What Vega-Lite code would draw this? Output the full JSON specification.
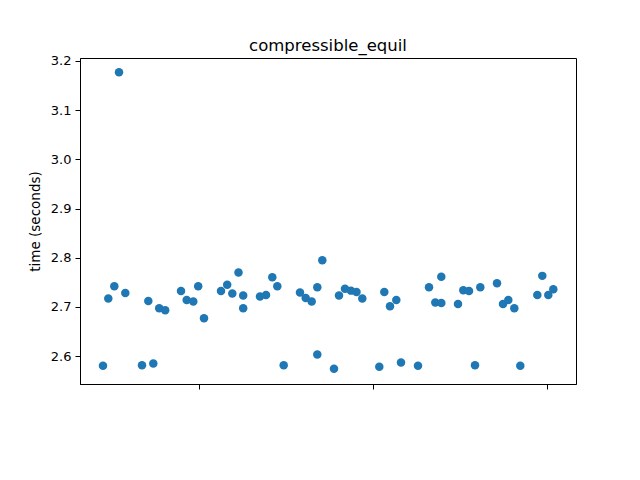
{
  "$schema": "https://vega.github.io/schema/vega-lite/v6.json",
  "autosize": "none",
  "padding": {"left": 80, "top": 58, "right": 64, "bottom": 96},
  "width": 496,
  "height": 326,
  "title": {
    "text": "compressible_equil",
    "font": "DejaVu Sans",
    "fontSize": 16.5,
    "fontWeight": "normal",
    "color": "black",
    "anchor": "middle",
    "baseline": "alphabetic",
    "offset": -13
  },
  "data": {
    "values": [
      {"x": 103, "t": 2.580}, {"x": 108.3, "t": 2.717}, {"x": 114.3, "t": 2.742}, {"x": 119, "t": 3.177},
      {"x": 125.3, "t": 2.728}, {"x": 142, "t": 2.581}, {"x": 148.3, "t": 2.712}, {"x": 153.3, "t": 2.585},
      {"x": 159.2, "t": 2.697}, {"x": 165.2, "t": 2.693}, {"x": 181, "t": 2.732}, {"x": 186.7, "t": 2.714},
      {"x": 193.3, "t": 2.711}, {"x": 198.2, "t": 2.742}, {"x": 204, "t": 2.677}, {"x": 221, "t": 2.732},
      {"x": 227.2, "t": 2.745}, {"x": 232.3, "t": 2.727}, {"x": 238.5, "t": 2.770}, {"x": 243.2, "t": 2.723},
      {"x": 243.2, "t": 2.697}, {"x": 260, "t": 2.721}, {"x": 266, "t": 2.724}, {"x": 272.3, "t": 2.760},
      {"x": 277.3, "t": 2.742}, {"x": 283.7, "t": 2.581}, {"x": 300, "t": 2.729}, {"x": 305.7, "t": 2.718},
      {"x": 311.7, "t": 2.711}, {"x": 317.3, "t": 2.740}, {"x": 317.3, "t": 2.603}, {"x": 322.3, "t": 2.795},
      {"x": 334, "t": 2.574}, {"x": 339, "t": 2.723}, {"x": 345, "t": 2.737}, {"x": 351, "t": 2.733},
      {"x": 356.5, "t": 2.730}, {"x": 362.3, "t": 2.717}, {"x": 379.3, "t": 2.578}, {"x": 384.3, "t": 2.730},
      {"x": 390, "t": 2.701}, {"x": 396.3, "t": 2.714}, {"x": 401, "t": 2.587}, {"x": 418, "t": 2.580},
      {"x": 429, "t": 2.740}, {"x": 435.3, "t": 2.709}, {"x": 441.3, "t": 2.708}, {"x": 441.3, "t": 2.761},
      {"x": 458, "t": 2.706}, {"x": 463.3, "t": 2.734}, {"x": 469, "t": 2.732}, {"x": 475, "t": 2.581},
      {"x": 480.3, "t": 2.740}, {"x": 497, "t": 2.748}, {"x": 503, "t": 2.706}, {"x": 508.3, "t": 2.714},
      {"x": 514.3, "t": 2.697}, {"x": 520.3, "t": 2.580}, {"x": 537.3, "t": 2.724}, {"x": 542.3, "t": 2.763},
      {"x": 548.3, "t": 2.724}, {"x": 553.3, "t": 2.736}
    ]
  },
  "mark": {"type": "point", "filled": true, "shape": "circle", "size": 72, "color": "#1f77b4", "opacity": 1},
  "encoding": {
    "x": {
      "field": "x",
      "type": "quantitative",
      "scale": {"domain": [80, 576], "nice": false, "zero": false},
      "axis": {
        "title": null,
        "values": [199, 373, 547],
        "labels": false,
        "grid": false,
        "tickColor": "black",
        "tickSize": 5,
        "domainColor": "black"
      }
    },
    "y": {
      "field": "t",
      "type": "quantitative",
      "scale": {"domain": [2.5431, 3.2061], "nice": false, "zero": false},
      "axis": {
        "title": "time (seconds)",
        "titleFont": "DejaVu Sans",
        "titleFontSize": 13.5,
        "titleFontWeight": "normal",
        "titleColor": "black",
        "titlePadding": 8,
        "values": [2.6, 2.7, 2.8, 2.9, 3.0, 3.1, 3.2],
        "format": ".1f",
        "labelFont": "DejaVu Sans",
        "labelFontSize": 13,
        "labelColor": "black",
        "labelPadding": 4,
        "grid": false,
        "tickColor": "black",
        "tickSize": 5,
        "domainColor": "black"
      }
    }
  },
  "config": {
    "view": {"stroke": "black", "strokeWidth": 1},
    "axis": {"domainWidth": 1, "tickWidth": 1}
  }
}
